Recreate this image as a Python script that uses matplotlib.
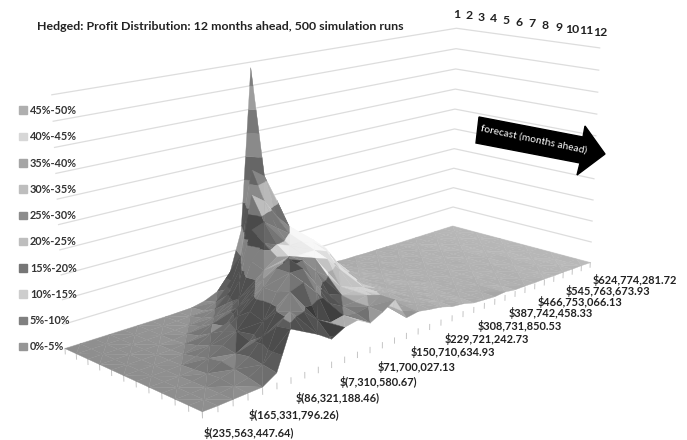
import numpy as np
import matplotlib
matplotlib.use('Agg')
import matplotlib.pyplot as plt
from matplotlib.patches import Patch, Polygon
from mpl_toolkits.mplot3d.art3d import Poly3DCollection

plt.rcParams['font.family'] = ['Lato', 'DejaVu Sans']
plt.rcParams['font.weight'] = 'bold'

W, H = 687, 440

# share of runs (%) per profit bin, one row per forecast month
month_1 = [0,0,0,0,0,0,0,0,.1,.2,.8,2,5,14,48.8,14,7,3,1.5,.8,.5,.4,.2,.2,.1,.1,.1,0,0,0,0,0,0,0]
month_2 = [0,0,0,0,0,0,0,.1,.2,.5,1.5,3.5,10,28,26,20,13,7,3,1.5,.8,.5,.4,.3,.2,.1,.1,.1,0,0,0,0,0,0]
month_3 = [0,0,0,0,0,0,.1,.2,.8,1.8,4,9,24,22,18,15,12,9,5,2,1,.7,.5,.4,.3,.2,.1,.1,.1,0,0,0,0,0]
month_4 = [0,0,0,0,0,0,.3,1,2,4,8,18,19,17,15,14,12,8,5,2,1.2,.8,.6,.5,.3,.2,.2,.1,.1,0,0,0,0,0]
month_5 = [0,0,0,0,0,.3,1,2.5,4,6,13,16,15,14,14,13,11,7,4,2,1.5,1,.7,.5,.4,.3,.2,.1,.1,.1,0,0,0,0]
month_6 = [0,0,0,0,.2,1,2.5,3,6,9,12,14,13,13,13,12,8,4.5,3,2,1.6,1.2,.9,.6,.4,.3,.2,.2,.1,.1,0,0,0,0]
month_7 = [0,0,0,.1,.8,2,4,6,9,12,14,15,14,13,12,9,6,4,3,2.5,1.8,1.2,1,.7,.5,.4,.3,.2,.1,.1,.1,0,0,0]
month_8 = [0,0,0,.3,1.5,3,5,8,12,15,16,15,12,10,7,6,5,4,3,2.5,2,1.5,1,.8,.6,.4,.3,.2,.2,.1,.1,0,0,0]
month_9 = [0,0,.1,.6,2,2.5,4,7,12,15,15,11,8,7,7,6,5,4,3,2.5,2,1.4,1,.8,.6,.5,.3,.2,.2,.1,.1,0,0,0]
month_10 = [0,0,.1,.8,1.5,3,6,10,13,14,11,8,6.5,6.5,7,5,4.5,3.5,3,2.5,1.8,1.3,1,.8,.6,.4,.3,.2,.2,.1,.1,.1,0,0]
month_11 = [0,0,.1,.4,1,2.5,9,11,10,7.5,6,6.5,6,6.5,8,4,4,3.5,3,2.2,1.8,1.2,.9,.7,.7,.4,.3,.3,.2,.1,.1,.1,0,0]
month_12 = [0,0,.1,.2,.3,2,9.5,8,6.5,4.6,6,6.5,5,6.3,8,3.3,3.7,3.2,2.8,2,1.7,1,.8,.6,.8,.4,.4,.3,.3,.2,.2,.1,.1,0]

months = list(range(1, 13))
profit_labels = ['$(235,563,447.64)', '$(165,331,796.26)', '$(86,321,188.46)', '$(7,310,580.67)',
                 '$71,700,027.13', '$150,710,634.93', '$229,721,242.73', '$308,731,850.53',
                 '$387,742,458.33', '$466,753,066.13', '$545,763,673.93', '$624,774,281.72']
band_labels = ['0%-5%', '5%-10%', '10%-15%', '15%-20%', '20%-25%',
               '25%-30%', '30%-35%', '35%-40%', '40%-45%', '45%-50%']
band_greys = [150, 128, 205, 118, 190, 140, 190, 165, 215, 175]

Z = np.array([month_1, month_2, month_3, month_4, month_5, month_6, month_7, month_8,
              month_9, month_10, month_11, month_12], dtype=float)
n_months, n_bins = Z.shape

fig = plt.figure(figsize=(W / 100, H / 100), dpi=100)
# 3d axes are forced square, so make it big enough to cover the whole figure
ax = fig.add_axes([0, -(W - H) / 2 / H, 1, W / H], projection='3d')
ax.set_axis_off()
ax.computed_zorder = False

# camera fitted to where the chart box corners and a few front ticks should land (pixels, y down)
box_world = [(0, 12, 0), (0, 1, 0), (33, 12, 0), (33, 1, 0), (33, 1, 50), (0, 1, 50), (33, 12, 50),
             (6, 12, 0), (13, 12, 0), (22, 12, 0)]
box_pixel = [(201, 412), (65, 349), (590, 263), (453, 226), (456, 28), (52, 95), (600, 48),
             (292, 377), (383, 342), (484, 304)]
rows = []
for (x, y, z), (u, v) in zip(box_world, box_pixel):
    v = H - v
    rows.append([x, y, z, 1, 0, 0, 0, 0, -u * x, -u * y, -u * z, -u])
    rows.append([0, 0, 0, 0, x, y, z, 1, -v * x, -v * y, -v * z, -v])
cam = np.linalg.svd(np.array(rows, dtype=float))[2][-1].reshape(3, 4)
if cam[2] @ np.array([33, 1, 0, 1]) < 0:
    cam = -cam


def fitted_proj():
    a = ax.transData.inverted().get_matrix()
    return np.array([a[0, 0] * cam[0] + a[0, 2] * cam[2],
                     a[1, 1] * cam[1] + a[1, 2] * cam[2],
                     [0, 0, 0, -1],
                     cam[2]])


ax.get_proj = fitted_proj


def to_fig(x, y, z):
    # figure fraction of a point in chart coordinates, for the axis labels
    p = cam @ np.array([x, y, z, 1.0])
    return p[0] / p[2] / W, p[1] / p[2] / H


def clip_band(poly, lo, hi):
    # cut a polygon down to the part between two heights
    for level, keep_above in ((lo, True), (hi, False)):
        out = []
        for k in range(len(poly)):
            a, b = poly[k], poly[(k + 1) % len(poly)]
            ina = (a[2] >= level) == keep_above
            inb = (b[2] >= level) == keep_above
            if ina:
                out.append(a)
            if ina != inb:
                t = (level - a[2]) / (b[2] - a[2])
                out.append(a + t * (b - a))
        poly = out
        if not poly:
            return []
    return poly


light = np.array([0.62, -0.1, 0.78])
polys, colors = [], []
for r in range(n_months - 1):
    for c in range(n_bins - 1):
        p = [np.array([c + dc, months[r + dr], Z[r + dr, c + dc]]) for dc, dr in ((0, 0), (1, 0), (1, 1), (0, 1))]
        if (r + c) % 2:
            tris = [(p[0], p[1], p[2]), (p[0], p[2], p[3])]
        else:
            tris = [(p[0], p[1], p[3]), (p[1], p[2], p[3])]
        for tri in tris:
            scale = np.array([1, 1, 0.4])
            n = np.cross((tri[1] - tri[0]) * scale, (tri[2] - tri[0]) * scale)
            n = n / np.linalg.norm(n)
            if n[2] < 0:
                n = -n
            shade = max(0.62 + 0.52 * (n @ light), 0.62)
            drift = 0.92 + 0.28 * tri[0][0] / 33
            # front of the ridge sits in shadow, the far side of it catches the light
            if r >= 6 and c < 13 and n[1] > 0.3:
                shade *= 0.68
            elif r <= 6 and c >= 12 and (tri[0][2] + tri[1][2] + tri[2][2]) / 3 > 4:
                shade *= 1.14
            for b, grey in enumerate(band_greys):
                piece = clip_band(list(tri), b * 5, (b + 1) * 5)
                if len(piece) < 3:
                    continue
                # the 5-10% band reads lighter out on the right hand hills
                lift = 1.4 if b == 1 and (c >= 13 or (c >= 10 and r >= 10)) else 1.0
                g = min(grey * shade * drift * lift / 255, 0.97)
                polys.append(np.array(piece))
                colors.append((g, g, g))

surface = Poly3DCollection(polys, facecolors=colors, edgecolors=colors, linewidths=0.25, zorder=3)
ax.add_collection3d(surface)

# wall grid lines every 5%
for level in range(0, 55, 5):
    ax.plot([0, 33, 33], [1, 1, 12], [level, level, level], color='#dddddd', lw=0.9, zorder=1)

# tick marks under the two front edges
for c in range(n_bins):
    ax.plot([c, c], [12, 12], [0, -1.1], color='#c4c4c4', lw=0.7, zorder=2)
for m in months:
    ax.plot([0, 0], [m, m], [0, -1.1], color='#c4c4c4', lw=0.7, zorder=2)

for c, label in zip(range(0, n_bins, 3), profit_labels):
    fx, fy = to_fig(c, 15.2, -1.3 * c / 33)
    fig.text(fx, fy, label, ha='center', va='center', fontsize=7.9, color='#222222')
for m in months:
    fx, fy = to_fig(33, m, 53.4)
    fig.text(fx, fy, str(m), ha='center', va='center', fontsize=8.8, color='#222222')

fig.text(37 / W, 1 - 27 / H, 'Hedged: Profit Distribution: 12 months ahead, 500 simulation runs',
         ha='left', va='center', fontsize=8.9, color='#222222')

handles = [Patch(color=str(g / 255), label=t) for g, t in zip(band_greys, band_labels)]
fig.legend(handles=handles[::-1], loc='upper left', bbox_to_anchor=(19 / W, 1 - 105 / H), frameon=False,
           fontsize=7.8, handlelength=0.7, handleheight=0.7, handletextpad=0.3, labelspacing=1.41,
           borderpad=0, borderaxespad=0, labelcolor='#333333')

# forecast arrow
arrow = [(479, 117), (583, 137), (585, 126), (605, 154), (577, 175), (580, 163), (476, 143)]
fig.add_artist(Polygon([(x / W, 1 - y / H) for x, y in arrow], closed=True, color='black',
                       transform=fig.transFigure))
fig.text(534 / W, 1 - 139 / H, 'forecast (months ahead)', color='white', fontsize=7.4, fontweight='normal',
         rotation=-12, rotation_mode='anchor', ha='center', va='center')

fig.savefig('out.png', dpi=100)
